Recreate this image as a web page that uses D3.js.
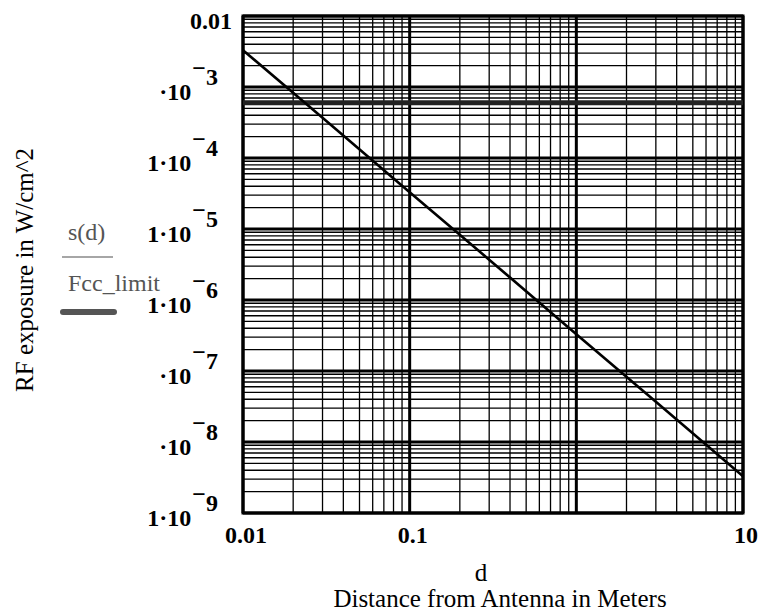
<!DOCTYPE html>
<html>
<head>
<meta charset="utf-8">
<script src="https://cdn.jsdelivr.net/npm/d3@7"></script>
<style>
  html, body { margin: 0; padding: 0; background: #fff; }
  svg { display: block; }
</style>
</head>
<body>
<script>
// ---- data ----
const distances = [0.01, 0.03, 0.1, 0.3, 1, 3, 10];                       // d, metres
const exposure  = [3.3e-3, 3.7e-4, 3.3e-5, 3.7e-6, 3.3e-7, 3.7e-8, 3.3e-9]; // s(d), W/cm^2
const fccLimit  = [6e-4];                                                  // Fcc_limit, W/cm^2

const xTickValues = [0.01, 0.1, 10];
const xTickLabels = ["0.01", "0.1", "10"];
const yTickValues   = [1e-2, 1e-3, 1e-4, 1e-5, 1e-6, 1e-7, 1e-8, 1e-9];
const yTickMantissa = ["0.01", "·10", "1·10", "1·10", "1·10", "·10", "·10", "1·10"];
const yTickExponent = ["", "3", "4", "5", "6", "7", "8", "9"];

const xDomain = [0.01, 10];
const yDomain = [1e-9, 1e-2];

const legendLabels = ["s(d)", "Fcc_limit"];
const xTitle = "d";
const xSubTitle = "Distance from Antenna in Meters";
const yTitle = "RF exposure in  W/cm^2";

// ---- layout ----
const W = 762, H = 611;
const plot = { left: 243, right: 743, top: 16, bottom: 513 };
const serif = "'Liberation Serif', 'Times New Roman', Times, serif";

const svg = d3.select("body").append("svg")
  .attr("width", W).attr("height", H)
  .attr("font-family", serif);

const x = d3.scaleLog().domain(xDomain).range([plot.left, plot.right]);
const y = d3.scaleLog().domain(yDomain).range([plot.bottom, plot.top]);

// grid values: minor 2..9 per decade, major at decades
function gridValues(domain) {
  const lo = Math.round(Math.log10(domain[0])), hi = Math.round(Math.log10(domain[1]));
  const minor = [], major = [];
  for (let e = lo; e <= hi; e++) {
    major.push(Math.pow(10, e));
    if (e < hi) for (let m = 2; m <= 9; m++) minor.push(m * Math.pow(10, e));
  }
  return { minor, major };
}
const gx = gridValues(xDomain), gy = gridValues(yDomain);

const grid = svg.append("g");
// minor grid
grid.selectAll("line.vx").data(gx.minor).enter().append("line")
  .attr("x1", d => x(d)).attr("x2", d => x(d))
  .attr("y1", plot.top).attr("y2", plot.bottom)
  .attr("stroke", "#000").attr("stroke-width", 1.3);
grid.selectAll("line.hy").data(gy.minor).enter().append("line")
  .attr("y1", d => y(d)).attr("y2", d => y(d))
  .attr("x1", plot.left).attr("x2", plot.right)
  .attr("stroke", "#000").attr("stroke-width", 1.3);
// major grid
grid.selectAll("line.vX").data(gx.major).enter().append("line")
  .attr("x1", d => x(d)).attr("x2", d => x(d))
  .attr("y1", plot.top).attr("y2", plot.bottom)
  .attr("stroke", "#000").attr("stroke-width", 3);
grid.selectAll("line.hY").data(gy.major).enter().append("line")
  .attr("y1", d => y(d)).attr("y2", d => y(d))
  .attr("x1", plot.left).attr("x2", plot.right)
  .attr("stroke", "#000").attr("stroke-width", 3);

// frame
svg.append("rect")
  .attr("x", plot.left).attr("y", plot.top)
  .attr("width", plot.right - plot.left).attr("height", plot.bottom - plot.top)
  .attr("fill", "none").attr("stroke", "#000").attr("stroke-width", 3);

// Fcc limit
svg.selectAll("line.fcc").data(fccLimit).enter().append("line")
  .attr("x1", plot.left).attr("x2", plot.right)
  .attr("y1", d => y(d)).attr("y2", d => y(d))
  .attr("stroke", "#222").attr("stroke-width", 5);

// s(d)
const pts = distances.map((d, i) => [d, exposure[i]]);
svg.append("path")
  .datum(pts)
  .attr("d", d3.line().x(p => x(p[0])).y(p => y(p[1])))
  .attr("fill", "none").attr("stroke", "#000").attr("stroke-width", 2.6);

// x tick labels
svg.selectAll("text.xt").data(xTickValues).enter().append("text")
  .attr("x", d => x(d) + 3).attr("y", 543)
  .attr("text-anchor", "middle")
  .attr("font-size", 24).attr("font-weight", "bold")
  .text((d, i) => xTickLabels[i]);

// y tick labels
const yl = svg.selectAll("g.yt").data(yTickValues).enter().append("g");
yl.each(function(d, i) {
  const g = d3.select(this);
  const yy = y(d);
  if (yTickExponent[i] === "") {
    g.append("text")
      .attr("x", 232).attr("y", yy + 13)
      .attr("text-anchor", "end")
      .attr("font-size", 24).attr("font-weight", "bold")
      .text(yTickMantissa[i]);
  } else {
    const t = g.append("text")
      .attr("x", 218).attr("y", yy + 13)
      .attr("text-anchor", "end")
      .attr("font-size", 24).attr("font-weight", "bold");
    t.append("tspan").text(yTickMantissa[i]);
    t.append("tspan").attr("dy", -24).attr("dx", 1).text("\u2212");
    t.append("tspan").attr("dy", 9).text(yTickExponent[i]);
  }
});

// legend
svg.append("text").attr("x", 68).attr("y", 240)
  .attr("font-size", 24).attr("fill", "#555").text(legendLabels[0]);
svg.append("line").attr("x1", 62).attr("x2", 113).attr("y1", 257).attr("y2", 257)
  .attr("stroke", "#888").attr("stroke-width", 1.5);
svg.append("text").attr("x", 68).attr("y", 291)
  .attr("font-size", 24).attr("fill", "#555").text(legendLabels[1]);
svg.append("line").attr("x1", 63).attr("x2", 114).attr("y1", 312).attr("y2", 312)
  .attr("stroke", "#555").attr("stroke-width", 6).attr("stroke-linecap", "round");

// axis titles
svg.append("text").attr("x", 481).attr("y", 581)
  .attr("text-anchor", "middle").attr("font-size", 25).text(xTitle);
svg.append("text").attr("x", 500).attr("y", 607)
  .attr("text-anchor", "middle").attr("font-size", 25).text(xSubTitle);
svg.append("text")
  .attr("transform", "translate(33,270) rotate(-90)")
  .attr("text-anchor", "middle").attr("font-size", 25).text(yTitle);
</script>
</body>
</html>
